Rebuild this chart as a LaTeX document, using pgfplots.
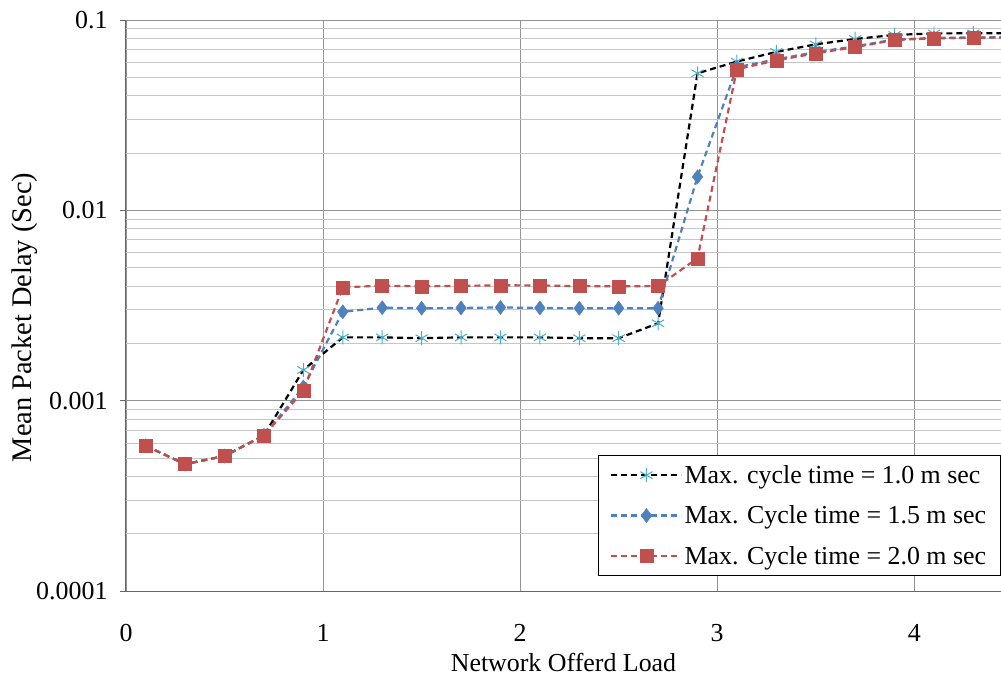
\documentclass[border=0pt]{standalone}
\usepackage{pgfplots}
\pgfplotsset{compat=1.18}
\usepackage{fontspec}
\setmainfont{Liberation Serif}
\definecolor{cBlue}{HTML}{4F81BD}
\definecolor{cRed}{HTML}{C0504D}
\definecolor{cCyan}{HTML}{4BACC6}
\begin{document}
\begin{tikzpicture}
\begin{axis}[
  scale only axis,
  width=875bp, height=571bp,
  xmin=0, xmax=4.44,
  ymode=log, ymin=1e-4, ymax=0.1,
  axis lines*=left,
  axis line style={draw=gray!80!black, line width=1pt},
  xtick={0,1,2,3,4},
  xtick style={draw=none},
  ytick={1e-4,1e-3,1e-2,1e-1},
  yticklabels={0.0001,0.001,0.01,0.1},
  ytick style={draw=gray!80!black, line width=0.8pt},
  tick align=outside,
  major tick length=6bp,
  minor tick length=0pt,
  xmajorgrids, ymajorgrids, yminorgrids,
  major grid style={draw=gray!85, line width=0.8pt},
  minor grid style={draw=gray!45, line width=0.8pt},
  /pgf/number format/assume math mode=true,
  tick label style={font=\fontsize{26}{31}\selectfont},
  yticklabel style={xshift=-9bp},
  xticklabel style={yshift=-24bp},
  xlabel style={font=\fontsize{26}{31}\selectfont, yshift=-4bp},
  ylabel style={font=\fontsize{28.5}{34}\selectfont, yshift=-8bp, xshift=-12bp},
  xlabel={Network Offerd Load},
  ylabel={Mean Packet Delay (Sec)},
  legend cell align=left,
  legend style={at={(0.9995,0.026)}, anchor=south east,
    font=\fontsize{26}{31}\selectfont, draw=black, line width=0.8pt,
    row sep=17bp, inner xsep=12bp, inner ysep=8bp},
  legend image code/.code={
    \draw[mark repeat=2, mark phase=2, #1] plot coordinates {(0bp,0bp) (35bp,0bp) (70bp,0bp)};},
  every axis plot/.append style={line width=2.2pt, dash pattern=on 6bp off 4bp},
]
\addplot[color=black, mark=asterisk, mark size=7bp,
  mark options={solid, draw=cCyan, line width=1pt}] coordinates {
(0.1,0.000579) (0.3,0.000464) (0.5,0.000512) (0.7,0.000657) (0.9,0.00145)
(1.1,0.00215) (1.3,0.00215) (1.5,0.00213) (1.7,0.00215) (1.9,0.00215)
(2.1,0.00215) (2.3,0.00213) (2.5,0.00213) (2.7,0.00255) (2.9,0.0525)
(3.1,0.0605) (3.3,0.068) (3.5,0.0745) (3.7,0.0795) (3.9,0.0835)
(4.1,0.085) (4.3,0.0852) (4.5,0.0852)};
\addlegendentry{Max. cycle time = 1.0 m sec}
\addplot[color=cBlue, mark=diamond*, mark size=7bp,
  mark options={solid, fill=cBlue, draw=cBlue, line width=0.5pt}] coordinates {
(0.1,0.000579) (0.3,0.000464) (0.5,0.000512) (0.7,0.000657) (0.9,0.00118)
(1.1,0.00293) (1.3,0.00308) (1.5,0.00306) (1.7,0.00307) (1.9,0.00309)
(2.1,0.00307) (2.3,0.00306) (2.5,0.00306) (2.7,0.00306) (2.9,0.0150)
(3.1,0.0565) (3.3,0.0622) (3.5,0.0678) (3.7,0.0728) (3.9,0.0790)
(4.1,0.0805) (4.3,0.0810) (4.5,0.0812)};
\addlegendentry{Max. Cycle time = 1.5 m sec}
\addplot[color=cRed, mark=square*, mark size=6.5bp,
  mark options={solid, fill=cRed, draw=cRed, line width=0.5pt}] coordinates {
(0.1,0.000579) (0.3,0.000464) (0.5,0.000512) (0.7,0.000657) (0.9,0.001125)
(1.1,0.00394) (1.3,0.00402) (1.5,0.00399) (1.7,0.00401) (1.9,0.00404)
(2.1,0.00403) (2.3,0.00400) (2.5,0.00399) (2.7,0.00400) (2.9,0.0056)
(3.1,0.0551) (3.3,0.0614) (3.5,0.0668) (3.7,0.0721) (3.9,0.0785)
(4.1,0.0801) (4.3,0.0807) (4.5,0.0809)};
\addlegendentry{Max. Cycle time = 2.0 m sec}
\end{axis}
\pgfresetboundingbox
\path[use as bounding box] (-126bp,-90bp) rectangle (875bp,591bp);
\end{tikzpicture}
\end{document}
